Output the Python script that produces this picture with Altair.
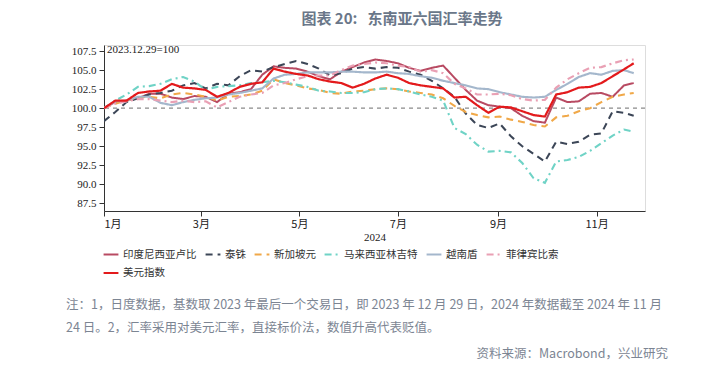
import altair as alt
import pandas as pd

SERIES = ["印度尼西亚卢比", "泰铢", "新加坡元", "马来西亚林吉特", "越南盾", "菲律宾比索", "美元指数"]
COLORS = ["#b84a62", "#3c4657", "#f0a848", "#6fd3c6", "#a4b7cc", "#e9a0b4", "#e31a1c"]
DASHES = [[1, 0], [7, 5], [7, 5], [7, 4, 2, 4], [1, 0], [7, 4, 2, 4], [1, 0]]
WIDTHS = [2.0, 2.2, 2.0, 2.0, 2.0, 2.0, 2.8]

DAYS = [0, 7, 14, 21, 28, 35, 42, 49, 56, 63, 70, 77, 84, 91, 98, 105, 112, 119, 126, 133,
        140, 147, 154, 161, 168, 175, 182, 189, 196, 203, 210, 217, 224, 231, 238, 245, 252,
        259, 266, 273, 280, 287, 294, 301, 308, 315, 322, 328]

IDR = [100.0, 100.8, 101.0, 101.3, 101.9, 101.9, 101.4, 101.2, 101.6, 101.5, 100.8, 101.9,
       102.1, 102.5, 104.4, 105.5, 105.3, 105.2, 104.8, 104.2, 103.8, 104.8, 105.4, 106.0,
       106.4, 106.2, 105.9, 105.3, 104.9, 105.3, 105.6, 104.0, 102.4, 101.0, 100.4, 100.2,
       100.0, 99.0, 98.3, 98.1, 101.4, 100.8, 100.9, 101.9, 102.0, 101.5, 103.0, 103.3]
THB = [98.3, 99.5, 100.8, 101.3, 101.8, 102.0, 102.3, 103.0, 103.3, 102.6, 103.2, 103.0,
       104.2, 105.0, 104.8, 105.4, 105.8, 106.2, 105.8, 105.2, 104.3, 104.6, 105.2, 105.4,
       105.2, 105.4, 105.3, 104.8, 104.4, 103.6, 102.6, 101.5, 99.3, 97.8, 97.4, 98.0,
       96.3, 95.0, 94.0, 93.0, 95.6, 95.3, 95.6, 96.5, 96.7, 99.6, 99.4, 99.0]
SGD = [100.0, 100.6, 101.0, 101.4, 101.5, 101.3, 101.8, 102.0, 101.8, 101.5, 101.0, 101.5,
       101.6, 101.8, 102.3, 103.8, 103.3, 103.0, 102.6, 102.4, 102.0, 101.9, 102.2, 102.3,
       102.5, 102.6, 102.5, 102.2, 102.0, 101.8, 101.3, 100.3, 99.5, 99.1, 98.8, 98.9,
       98.5, 98.2, 97.8, 97.6, 98.8, 99.0, 99.6, 100.0, 100.8, 101.5, 101.8, 102.0]
MYR = [100.0, 101.0, 101.8, 102.8, 102.9, 103.2, 103.8, 104.1, 103.5, 102.4, 102.8, 102.9,
       103.0, 103.3, 103.4, 103.6, 103.4, 103.1, 102.8, 102.3, 102.2, 102.0, 102.0, 102.1,
       102.5, 102.6, 102.5, 102.2, 101.8, 101.5, 101.0, 97.4, 96.6, 95.2, 94.3, 94.4,
       94.2, 92.8, 90.8, 90.2, 93.0, 93.2, 93.6, 94.4, 95.4, 96.4, 97.2, 96.9]
VND = [100.0, 100.9, 101.0, 101.5, 101.5, 100.7, 100.4, 100.8, 101.1, 101.3, 101.4, 101.8,
       102.0, 102.3, 102.6, 103.9, 104.4, 104.5, 104.7, 104.7, 104.7, 104.8, 104.8, 104.7,
       104.7, 104.8, 104.6, 104.5, 104.2, 104.0, 103.6, 103.3, 103.0, 102.6, 102.5, 102.1,
       101.8, 101.5, 101.4, 101.5, 102.4, 103.2, 104.1, 104.6, 104.4, 104.9, 105.0, 104.6]
PHP = [100.0, 100.6, 100.9, 101.2, 101.2, 101.0, 100.8, 101.0, 100.8, 100.9, 100.1, 100.8,
       101.5, 101.8, 102.0, 103.0, 103.3, 103.8, 104.2, 104.3, 104.3, 105.0, 105.6, 105.8,
       106.0, 105.9, 105.6, 105.4, 104.8, 105.0, 104.6, 103.2, 102.6, 101.8, 101.8, 101.9,
       101.7, 101.2, 101.0, 101.1, 102.7, 103.8, 104.6, 105.3, 105.4, 105.9, 106.3, 106.4]
USD = [100.0, 101.0, 101.0, 102.0, 102.2, 102.3, 103.2, 102.7, 102.6, 102.4, 101.5, 102.0,
       102.8, 103.2, 103.4, 105.2, 104.8, 104.5, 104.3, 103.8, 103.5, 103.3, 102.7, 103.2,
       103.9, 104.4, 104.0, 103.3, 103.0, 102.8, 102.6, 101.4, 101.5, 100.4, 99.4, 100.2,
       100.1, 99.6, 99.1, 98.9, 101.8, 102.1, 102.7, 102.8, 103.3, 104.2, 105.1, 105.9]

Y_TICKS = [87.5, 90.0, 92.5, 95.0, 97.5, 100.0, 102.5, 105.0, 107.5]
X_TICK_MONTHS = [1, 3, 5, 7, 9, 11]

TITLE = "图表 20:\u00a0\u00a0\u00a0东南亚六国汇率走势"
NOTE1 = "注：1，日度数据，基数取 2023 年最后一个交易日，即 2023 年 12 月 29 日，2024 年数据截至 2024 年 11 月"
NOTE2 = "24 日。2，汇率采用对美元汇率，直接标价法，数值升高代表贬值。"
SOURCE = "资料来源：Macrobond，兴业研究"
BASE_NOTE = "2023.12.29=100"

base_date = pd.Timestamp("2024-01-01")
dates = [(base_date + pd.Timedelta(days=d)).strftime("%Y-%m-%d") for d in DAYS]
tick_dates = [alt.DateTime(year=2024, month=m, date=1, utc=True) for m in X_TICK_MONTHS]

values = [IDR, THB, SGD, MYR, VND, PHP, USD]
rows = []
for name, vals in zip(SERIES, values):
    for dt, v in zip(dates, vals):
        rows.append({"date": dt, "series": name, "value": v})
df = pd.DataFrame(rows)

CJK = "Noto Sans CJK SC"
SERIF = "Liberation Serif"

y_axis = alt.Axis(values=Y_TICKS, format=".1f", title=None, grid=False,
                  labelFont=SERIF, labelFontSize=11, labelColor="#222",
                  domainColor="#333", tickColor="#333", tickSize=5, labelPadding=3,
                  labelOverlap=False)
y_scale = alt.Scale(domain=[86.5, 108.3], nice=False, zero=False)

x_enc = alt.X("date:T", scale=alt.Scale(type="utc", domain=[alt.DateTime(year=2024, month=1, date=1, utc=True),
                                                          alt.DateTime(year=2024, month=12, date=1, utc=True)]),
              axis=alt.Axis(values=tick_dates, labelExpr="(utcmonth(datum.value)+1) + '月'",
                            title="2024", titleFont=SERIF, titleFontWeight="normal", titleFontSize=11,
                            titleColor="#222", labelFont=CJK, labelFontSize=11, labelColor="#222",
                            grid=False, domainColor="#333", tickColor="#333", tickSize=5,
                            labelPadding=2, titlePadding=2, labelOverlap=False))
y_enc = alt.Y("value:Q", scale=y_scale, axis=y_axis)

legend_cfg = dict(title=None, orient="none", direction="horizontal", legendX=-2, legendY=201,
                  columns=6, symbolType="stroke", symbolSize=220, symbolStrokeWidth=2.5,
                  labelFont=CJK, labelFontSize=10.5, labelColor="#333",
                  columnPadding=4, rowPadding=4, labelOffset=3)

lines = alt.Chart(df).mark_line(clip=True).encode(
    x=x_enc,
    y=y_enc,
    color=alt.Color("series:N", scale=alt.Scale(domain=SERIES, range=COLORS),
                    legend=alt.Legend(**legend_cfg)),
    strokeDash=alt.StrokeDash("series:N", scale=alt.Scale(domain=SERIES, range=DASHES),
                              legend=alt.Legend(**legend_cfg)),
    strokeWidth=alt.StrokeWidth("series:N", scale=alt.Scale(domain=SERIES, range=WIDTHS),
                                legend=None),
)

rule = alt.Chart(pd.DataFrame({"value": [100.0]})).mark_rule(
    color="#8a8a8a", strokeDash=[4, 4], strokeWidth=1.2
).encode(y=alt.Y("value:Q", scale=y_scale, axis=y_axis))

def text_layer(txt, x, y, align="left", size=12.5, font=CJK, color="#7c8593", weight="normal",
               baseline="middle"):
    return alt.Chart(pd.DataFrame({"t": [txt]})).mark_text(
        align=align, baseline=baseline, fontSize=size, font=font, color=color, fontWeight=weight
    ).encode(text="t:N", x=alt.value(x), y=alt.value(y))

title = text_layer(TITLE, 298, -33, align="center", size=15, color="#6a7789", weight="bold",
                   baseline="top")
note_base = text_layer(BASE_NOTE, 3, 5, size=11, font=SERIF, color="#222")
note1 = text_layer(NOTE1, -38, 260)
note2 = text_layer(NOTE2, -38, 283)
source = text_layer(SOURCE, 564, 309, align="right")

chart = alt.layer(rule, lines, title, note_base, note1, note2, source).properties(
    width=541, height=166,
    autosize=alt.AutoSizeParams(type="none"),
    padding={"left": 96, "top": 37, "right": 70, "bottom": 150},
).configure_view(stroke=None).configure(background="white")

chart.save("out.html", embed_options={"renderer": "svg", "actions": False})
